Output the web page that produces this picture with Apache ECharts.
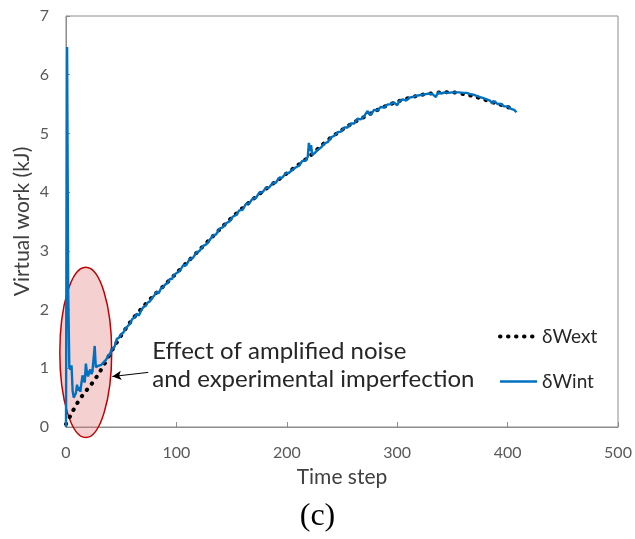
<!DOCTYPE html>
<html><head><meta charset="utf-8">
<script src="https://cdn.jsdelivr.net/npm/echarts@6/dist/echarts.min.js"></script>
<style>html,body{margin:0;padding:0;background:#fff}#c{width:635px;height:539px}</style>
</head><body><div id="c"></div>
<script>
// ---- data ----
const xTickValues = [0, 100, 200, 300, 400, 500];
const yTickValues = [0, 1, 2, 3, 4, 5, 6, 7];
const seriesNames = ['δWext', 'δWint'];

const wextSteps = [0, 5, 10, 15, 20, 25, 30, 35, 40, 45, 50, 55, 60, 70, 80, 90, 100, 110, 120, 130, 140, 150, 160, 170, 180, 190, 200, 210, 220, 230, 240, 250, 260, 270, 280, 290, 300, 310, 320, 330, 340, 350, 360, 370, 380, 390, 400, 403];
const wextValues = [0.05, 0.23, 0.40, 0.54, 0.66, 0.78, 0.92, 1.08, 1.25, 1.41, 1.56, 1.70, 1.83, 2.05, 2.25, 2.43, 2.62, 2.81, 3.00, 3.19, 3.38, 3.56, 3.73, 3.89, 4.04, 4.18, 4.32, 4.46, 4.60, 4.77, 4.93, 5.06, 5.18, 5.28, 5.38, 5.47, 5.54, 5.60, 5.65, 5.68, 5.70, 5.70, 5.67, 5.63, 5.57, 5.51, 5.45, 5.43];

const wintSteps = [0, 1, 2, 3, 4, 5, 6, 7, 8, 9, 10, 11, 12, 13, 14, 15, 16, 17, 18, 19, 20, 21, 22, 23, 24, 25, 26, 27, 28, 29, 30, 32, 34, 36, 38, 40, 42, 44, 46, 48, 50, 52, 54, 56, 58, 60, 62, 64, 66, 68, 70, 72, 74, 76, 78, 80, 82, 84, 86, 88, 90, 92, 94, 96, 98, 100, 103, 106, 109, 112, 115, 118, 121, 124, 127, 130, 133, 136, 139, 142, 145, 148, 151, 154, 157, 160, 163, 166, 169, 172, 175, 178, 181, 184, 187, 190, 193, 196, 199, 202, 205, 208, 211, 214, 217, 219, 220, 221, 222, 223, 225, 228, 231, 234, 237, 240, 243, 246, 249, 252, 255, 258, 261, 264, 267, 270, 273, 276, 279, 282, 285, 288, 291, 294, 297, 300, 302, 305, 308, 311, 314, 317, 320, 323, 326, 329, 332, 335, 337, 340, 343, 346, 350, 353, 356, 360, 363, 366, 369, 372, 375, 378, 381, 384, 386, 388, 391, 394, 397, 400, 403, 406, 408];
const wintValues = [0.00, 6.47, 2.30, 1.02, 0.98, 1.05, 0.62, 0.50, 0.47, 0.58, 0.72, 0.62, 0.68, 0.60, 0.75, 0.88, 0.80, 0.76, 1.08, 0.92, 0.86, 0.94, 0.98, 0.90, 0.95, 0.93, 1.38, 1.02, 1.00, 1.04, 1.03, 1.06, 1.10, 1.14, 1.20, 1.26, 1.33, 1.37, 1.50, 1.52, 1.58, 1.61, 1.68, 1.72, 1.76, 1.84, 1.86, 1.93, 1.90, 1.98, 2.04, 2.06, 2.12, 2.14, 2.20, 2.24, 2.30, 2.28, 2.36, 2.38, 2.43, 2.45, 2.52, 2.52, 2.59, 2.62, 2.66, 2.75, 2.76, 2.86, 2.88, 2.97, 3.00, 3.08, 3.11, 3.18, 3.26, 3.28, 3.38, 3.40, 3.47, 3.50, 3.58, 3.61, 3.69, 3.70, 3.80, 3.81, 3.89, 3.90, 3.99, 4.00, 4.07, 4.08, 4.15, 4.16, 4.24, 4.25, 4.32, 4.33, 4.38, 4.42, 4.45, 4.53, 4.54, 4.60, 4.84, 4.70, 4.80, 4.64, 4.66, 4.72, 4.76, 4.83, 4.85, 4.93, 4.96, 5.02, 5.03, 5.10, 5.10, 5.17, 5.17, 5.25, 5.24, 5.29, 5.38, 5.31, 5.40, 5.39, 5.45, 5.44, 5.49, 5.50, 5.53, 5.48, 5.55, 5.58, 5.56, 5.61, 5.62, 5.64, 5.65, 5.66, 5.67, 5.68, 5.67, 5.62, 5.70, 5.68, 5.70, 5.69, 5.70, 5.70, 5.70, 5.69, 5.69, 5.67, 5.66, 5.64, 5.62, 5.60, 5.58, 5.56, 5.51, 5.55, 5.50, 5.50, 5.46, 5.46, 5.42, 5.40, 5.36];

// annotation anchors (data units)
const arrowFrom = [74.5, 0.93];
const arrowTo = [42, 0.86];
const ellipseCenter = [17.9, 1.27];
const ellipseRadius = [23.5, 1.45];
const noteLines = ['Effect of amplified noise', 'and experimental imperfection'];
const panelLabel = '(c)';

const zip = (a, b) => a.map((v, i) => [v, b[i]]);
const FONT = 'Lato';
const dotStyle = {color: '#000', width: 4, type: [0.5, 7.5], cap: 'round'};
const blueStyle = {color: '#0070C0', width: 2.4};

const chart = echarts.init(document.getElementById('c'), null, {renderer: 'canvas'});
chart.setOption({
  animation: false,
  backgroundColor: '#fff',
  textStyle: {fontFamily: FONT},
  grid: {left: 66, right: 17, top: 16, bottom: 112, show: true, borderColor: '#8c8c8c', borderWidth: 1},
  xAxis: {
    type: 'value', min: xTickValues[0], max: xTickValues[xTickValues.length - 1], interval: 100,
    name: 'Time step', nameLocation: 'middle', nameGap: 40, nameMoveOverlap: false,
    nameTextStyle: {fontSize: 21, color: '#404040', fontFamily: FONT},
    axisLine: {lineStyle: {color: '#8c8c8c'}},
    axisTick: {inside: true, length: 5, lineStyle: {color: '#8c8c8c'}},
    axisLabel: {fontSize: 16, color: '#595959', margin: 18, fontFamily: FONT},
    splitLine: {show: false}
  },
  yAxis: {
    type: 'value', min: yTickValues[0], max: yTickValues[yTickValues.length - 1], interval: 1,
    name: 'Virtual work (kJ)', nameLocation: 'middle', nameGap: 33, nameRotate: 90, nameMoveOverlap: false,
    nameTextStyle: {fontSize: 21, color: '#404040', fontFamily: FONT},
    axisLine: {show: true, lineStyle: {color: '#8c8c8c'}},
    axisTick: {show: true, inside: true, length: 4, lineStyle: {color: '#8c8c8c'}},
    axisLabel: {fontSize: 16, color: '#595959', margin: 17, fontFamily: FONT},
    splitLine: {show: false}
  },
  legend: {
    orient: 'vertical', left: 493, top: 322, itemGap: 26, itemWidth: 37, itemHeight: 14,
    itemStyle: {opacity: 0},
    textStyle: {fontSize: 19, color: '#262626', fontFamily: FONT},
    data: [
      {name: seriesNames[0], lineStyle: dotStyle},
      {name: seriesNames[1], lineStyle: blueStyle}
    ]
  },
  series: [
    {
      name: seriesNames[0], type: 'line', data: zip(wextSteps, wextValues),
      showSymbol: false, symbol: 'none', smooth: 0.3, z: 2,
      lineStyle: dotStyle,
      itemStyle: {color: '#000'}
    },
    {
      name: seriesNames[1], type: 'line', data: zip(wintSteps, wintValues),
      showSymbol: false, symbol: 'none', z: 3,
      lineStyle: blueStyle,
      itemStyle: {color: '#0070C0'},
      markLine: {
        silent: true, symbol: ['none', 'arrow'], symbolSize: [7, 9],
        label: {show: false},
        lineStyle: {color: '#000', width: 1, type: 'solid'},
        data: [[{coord: arrowFrom}, {coord: arrowTo}]]
      }
    }
  ]
});

// ellipse + annotation text using axis conversions
const c = chart.convertToPixel({gridIndex: 0}, ellipseCenter);
const e = chart.convertToPixel({gridIndex: 0}, [ellipseCenter[0] + ellipseRadius[0], ellipseCenter[1] + ellipseRadius[1]]);
const af = chart.convertToPixel({gridIndex: 0}, arrowFrom);
chart.setOption({
  graphic: [
    {type: 'ellipse', z: 1, silent: true,
     shape: {cx: c[0], cy: c[1], rx: Math.abs(e[0] - c[0]), ry: Math.abs(c[1] - e[1])},
     style: {fill: 'rgba(225,120,120,0.35)', stroke: '#c00000', lineWidth: 1.5}},
    {type: 'text', z: 10, left: af[0] + 4, top: af[1] - 35,
     style: {text: noteLines.join('\n'), font: '24px ' + FONT, fill: '#262626', lineHeight: 28}},
    {type: 'text', z: 10, left: 'center', top: 501,
     style: {text: panelLabel, font: '32px "Liberation Serif", serif', fill: '#000'}}
  ]
});
</script></body></html>
